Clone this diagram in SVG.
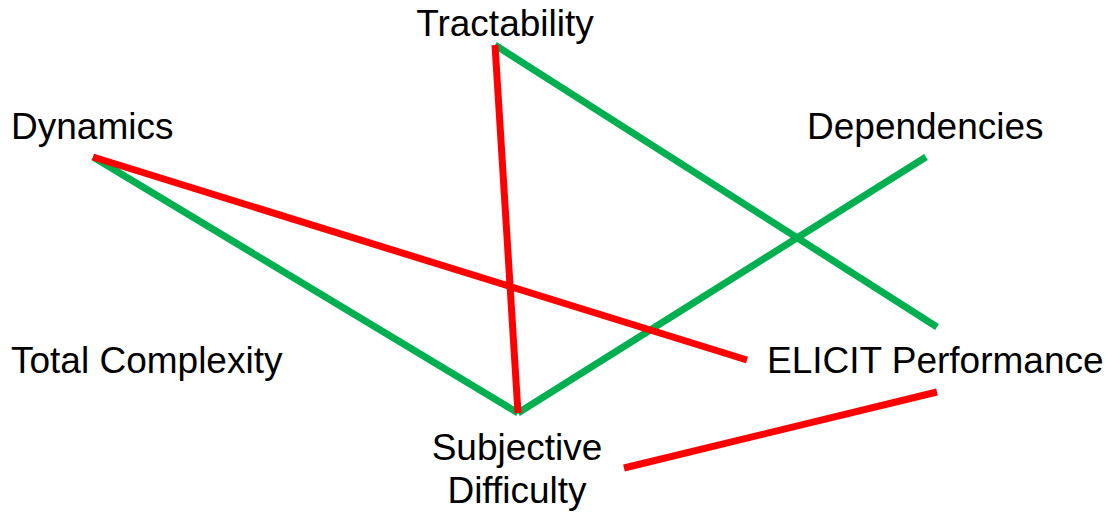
<svg xmlns="http://www.w3.org/2000/svg" width="1110" height="514" viewBox="0 0 1110 514">
<style>
text{font-family:"Liberation Sans",Arial,sans-serif;font-size:37px;fill:#000}
.r{stroke:#FF0000;stroke-width:7;fill:none}
.g{stroke:#00B050;stroke-width:7;fill:none}
</style>
<rect width="1110" height="514" fill="#fff"/>
<g id="connectors">
<line class="g" x1="495" y1="45" x2="937" y2="327"/>
<line class="g" x1="93" y1="157" x2="518" y2="413"/>
<line class="g" x1="518" y1="413" x2="926" y2="157"/>
<line class="r" x1="495" y1="45" x2="518" y2="413"/>
<line class="r" x1="93" y1="157" x2="747" y2="360"/>
<line class="r" x1="624" y1="468" x2="937" y2="392"/>
</g>
<g id="tractability"><text x="505" y="36" text-anchor="middle">Tractability</text></g>
<g id="dynamics"><text x="11" y="139">Dynamics</text></g>
<g id="dependencies"><text x="807" y="139">Dependencies</text></g>
<g id="total-complexity"><text x="11" y="373">Total Complexity</text></g>
<g id="elicit-performance"><text x="767" y="373">ELICIT Performance</text></g>
<g id="subjective-difficulty"><text x="517" y="460" text-anchor="middle">Subjective</text><text x="517" y="503" text-anchor="middle">Difficulty</text></g>
</svg>
